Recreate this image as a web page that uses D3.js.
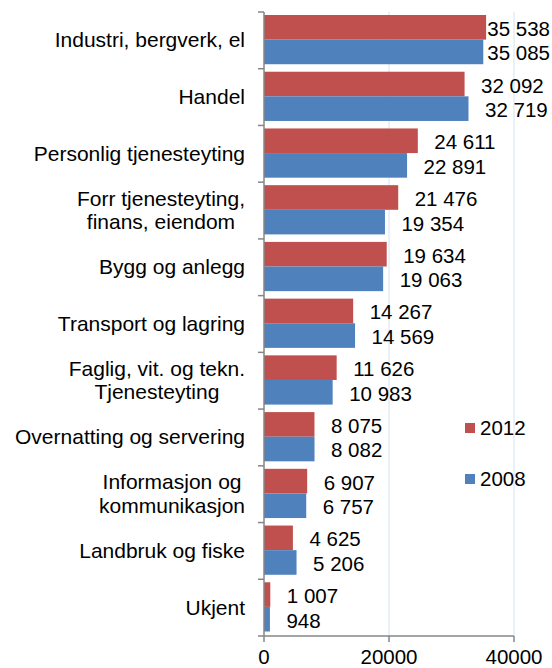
<!DOCTYPE html>
<html>
<head>
<meta charset="utf-8">
<script src="https://cdn.jsdelivr.net/npm/d3@7"></script>
<style>
  html, body { margin: 0; padding: 0; background: #fff; }
  svg { display: block; }
  text { font-family: "Liberation Sans", Arial, sans-serif; fill: #000; }
</style>
</head>
<body>
<svg id="chart" width="552" height="668"></svg>
<script>
const categories = [
  "Industri, bergverk, el",
  "Handel",
  "Personlig tjenesteyting",
  "Forr tjenesteyting,\nfinans, eiendom",
  "Bygg og anlegg",
  "Transport og lagring",
  "Faglig, vit. og tekn.\nTjenesteyting",
  "Overnatting og servering",
  "Informasjon og\nkommunikasjon",
  "Landbruk og fiske",
  "Ukjent"
];
const seriesNames = ["2012", "2008"];
const values2012 = [35538, 32092, 24611, 21476, 19634, 14267, 11626, 8075, 6907, 4625, 1007];
const values2008 = [35085, 32719, 22891, 19354, 19063, 14569, 10983, 8082, 6757, 5206, 948];
const xTicks = [0, 20000, 40000];
const seriesColors = ["#C0504D", "#4F81BD"];

const svg = d3.select("#chart");
const W = 552, H = 668;
const pLeft = 264, pRight = 514, pTop = 12, pBottom = 636;
const fontSize = 20.5;

const x = d3.scaleLinear().domain([0, 40000]).range([pLeft, pRight]);
const y0 = d3.scaleBand().domain(categories).range([pTop, pBottom]).padding(0);
const y1 = d3.scaleBand().domain(seriesNames).range([3, y0.bandwidth() - 4.5]).padding(0);
const color = d3.scaleOrdinal().domain(seriesNames).range(seriesColors);

const seriesValues = { "2012": values2012, "2008": values2008 };
const fmt = v => d3.format(",")(v).replace(/,/g, "\u00a0");

// gridlines
svg.append("g")
  .selectAll("line")
  .data(xTicks.filter(t => t > 0))
  .join("line")
  .attr("x1", d => x(d)).attr("x2", d => x(d))
  .attr("y1", pTop).attr("y2", pBottom)
  .attr("stroke", "#D6E2F0").attr("stroke-width", 1);

// bars
const groups = svg.append("g")
  .selectAll("g")
  .data(categories.map((c, i) => ({ c, i })))
  .join("g")
  .attr("transform", d => `translate(0,${y0(d.c)})`);

groups.selectAll("rect")
  .data(d => seriesNames.map(s => ({ s, v: seriesValues[s][d.i] })))
  .join("rect")
  .attr("x", x(0))
  .attr("y", d => y1(d.s))
  .attr("width", d => x(d.v) - x(0))
  .attr("height", y1.bandwidth())
  .attr("fill", d => color(d.s));

// value labels
groups.selectAll("text")
  .data(d => seriesNames.map(s => ({ s, v: seriesValues[s][d.i] })))
  .join("text")
  .attr("y", d => y1(d.s) + y1.bandwidth() / 2 + 8.5)
  .attr("font-size", fontSize)
  .text(d => fmt(d.v))
  .each(function (d) {
    const w = this.getComputedTextLength();
    const xs = Math.min(x(d.v) + 16.5, W - 2 - w);
    d3.select(this).attr("x", xs);
  });

// left axis
const yAxis = svg.append("g");
yAxis.append("line")
  .attr("x1", pLeft).attr("x2", pLeft).attr("y1", pTop).attr("y2", pBottom)
  .attr("stroke", "#868686").attr("stroke-width", 1.5);
const boundaries = categories.map(c => y0(c)).concat([pBottom]);
yAxis.selectAll("line.tick")
  .data(boundaries)
  .join("line")
  .attr("class", "tick")
  .attr("x1", pLeft - 6).attr("x2", pLeft)
  .attr("y1", d => d).attr("y2", d => d)
  .attr("stroke", "#868686").attr("stroke-width", 1.5);

// category labels
const labelRight = 245;
const lineH = 23.5;
categories.forEach(c => {
  const lines = c.split("\n");
  const g = svg.append("g");
  const cy = y0(c) + y0.bandwidth() / 2;
  const texts = lines.map((ln, k) => g.append("text")
    .attr("font-size", 21)
    .attr("y", cy + (k - (lines.length - 1) / 2) * lineH + 7)
    .text(ln));
  const widths = texts.map(t => t.node().getComputedTextLength());
  const maxW = d3.max(widths);
  texts.forEach(t => t.attr("x", labelRight - maxW / 2).attr("text-anchor", "middle"));
});

// bottom axis
const xAxis = svg.append("g");
xAxis.append("line")
  .attr("x1", pLeft).attr("x2", pRight).attr("y1", pBottom).attr("y2", pBottom)
  .attr("stroke", "#868686").attr("stroke-width", 1.5);
xAxis.selectAll("line.tick")
  .data(xTicks)
  .join("line")
  .attr("class", "tick")
  .attr("x1", d => x(d)).attr("x2", d => x(d))
  .attr("y1", pBottom).attr("y2", pBottom + 6)
  .attr("stroke", "#868686").attr("stroke-width", 1.5);
xAxis.selectAll("text")
  .data(xTicks)
  .join("text")
  .attr("x", d => x(d))
  .attr("y", 664)
  .attr("text-anchor", "middle")
  .attr("font-size", fontSize)
  .text(d => d);

// legend
const legend = svg.append("g");
const legendY = [428, 479];
seriesNames.forEach((s, i) => {
  legend.append("rect")
    .attr("x", 465).attr("y", legendY[i] - 5)
    .attr("width", 10).attr("height", 10)
    .attr("fill", color(s));
  legend.append("text")
    .attr("x", 480).attr("y", legendY[i] + 7.3)
    .attr("font-size", fontSize)
    .text(s);
});
</script>
</body>
</html>
